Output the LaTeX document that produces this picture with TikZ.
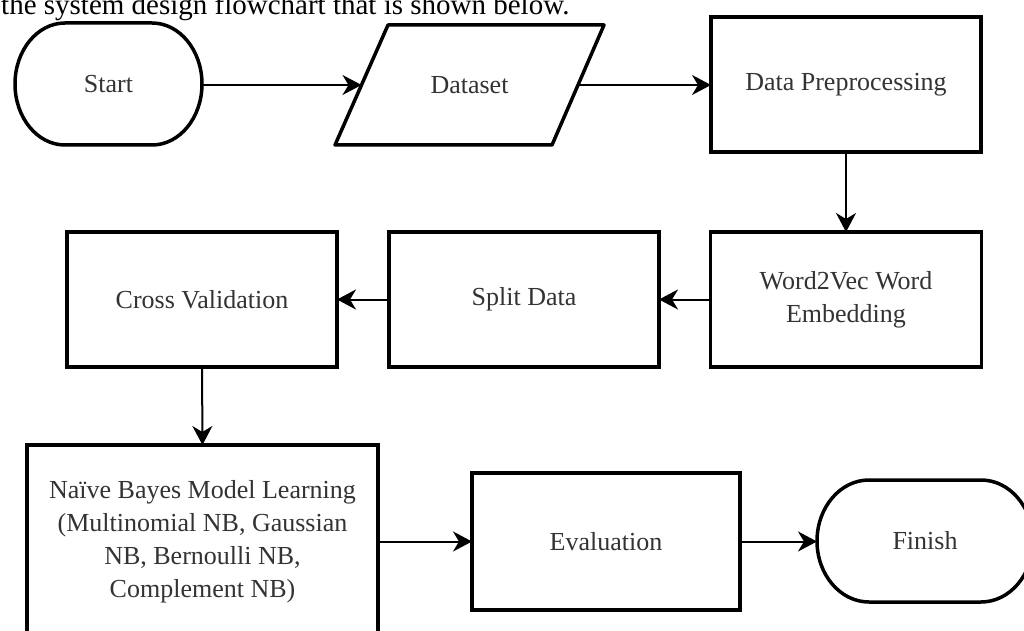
\documentclass[tikz,border=0pt]{standalone}
\usepackage{fontspec}
\setmainfont{Liberation Serif}
\usetikzlibrary{arrows.meta}
\tikzset{
  boxshape/.style={draw=black, line width=3.5pt, rectangle, inner sep=0pt, outer sep=0pt, align=center, text=black!80, font=\fontsize{26}{33}\selectfont},
  plainshape/.style={inner sep=0pt, outer sep=0pt, align=center, text=black!80, font=\fontsize{26}{33}\selectfont},
  outline/.style={draw=black, line width=3.5pt, line join=round},
  flow/.style={draw=black, line width=2pt, -{Stealth[length=19pt, width=20pt, inset=6pt]}},
}
\begin{document}
\begin{tikzpicture}[x=1pt, y=1pt]
\useasboundingbox (0,0) rectangle (1024,630);
\fill[white] (0,0) rectangle (1024,630);

% caption (clipped at the top, as in the reference)
\node[anchor=base west, inner sep=0pt, font=\fontsize{29}{34}\selectfont] (cap) at (1,615) {the system design flowchart that is shown below.};

% Start terminator
\node[plainshape, minimum width=187pt, minimum height=122pt] (start) at (108.5,546) {Start};
\draw[outline] ([xshift=50pt]start.north west) -- ([xshift=-50pt]start.north east)
  arc[start angle=90, end angle=-90, x radius=50pt, y radius=61pt]
  -- ([xshift=50pt]start.south west)
  arc[start angle=270, end angle=90, x radius=50pt, y radius=61pt] -- cycle;

% Dataset parallelogram
\node[plainshape, minimum width=269pt, minimum height=120pt] (ds) at (469.5,545) {Dataset};
\draw[outline] ([xshift=53pt]ds.north west) -- (ds.north east)
  -- ([xshift=-52pt]ds.south east) -- (ds.south west) -- cycle;
\coordinate (dsin) at ([xshift=26.5pt]ds.west);
\coordinate (dsout) at ([xshift=-26pt]ds.east);

% Process boxes
\node[boxshape, minimum width=270pt, minimum height=135pt] (dp) at (846,545.5) {Data Preprocessing};
\node[boxshape, minimum width=271pt, minimum height=135pt] (w2v) at (846,330.5) {Word2Vec Word\\Embedding};
\node[boxshape, minimum width=270pt, minimum height=135pt] (split) at (524,330.5) {Split Data};
\node[boxshape, minimum width=270pt, minimum height=135pt] (cv) at (202,330.5) {Cross Validation};
\node[boxshape, minimum width=351pt, minimum height=194pt] (nb) at (202.5,88) {Naïve Bayes Model Learning\\(Multinomial NB, Gaussian\\NB, Bernoulli NB,\\Complement NB)};
\node[boxshape, minimum width=268pt, minimum height=137pt] (ev) at (606,88.5) {Evaluation};

% Finish terminator
\node[plainshape, minimum width=216pt, minimum height=122pt] (fin) at (925,89) {Finish};
\draw[outline] ([xshift=52pt]fin.north west) -- ([xshift=-52pt]fin.north east)
  arc[start angle=90, end angle=-90, x radius=52pt, y radius=61pt]
  -- ([xshift=52pt]fin.south west)
  arc[start angle=270, end angle=90, x radius=52pt, y radius=61pt] -- cycle;

% Connectors
\draw[flow] (start.east |- 0,545) -- (dsin |- 0,545);
\draw[flow] (dsout |- 0,545) -- (dp.west |- 0,545);
\draw[flow] (dp.south) -- (w2v.north);
\draw[flow] (w2v.west) -- (split.east);
\draw[flow] (split.west) -- (cv.east);
\draw[flow] (cv.south) -- (nb.north);
\draw[flow] (nb.east |- 0,88.5) -- (ev.west);
\draw[flow] (ev.east) -- (fin.west |- ev.east);
\end{tikzpicture}
\end{document}
